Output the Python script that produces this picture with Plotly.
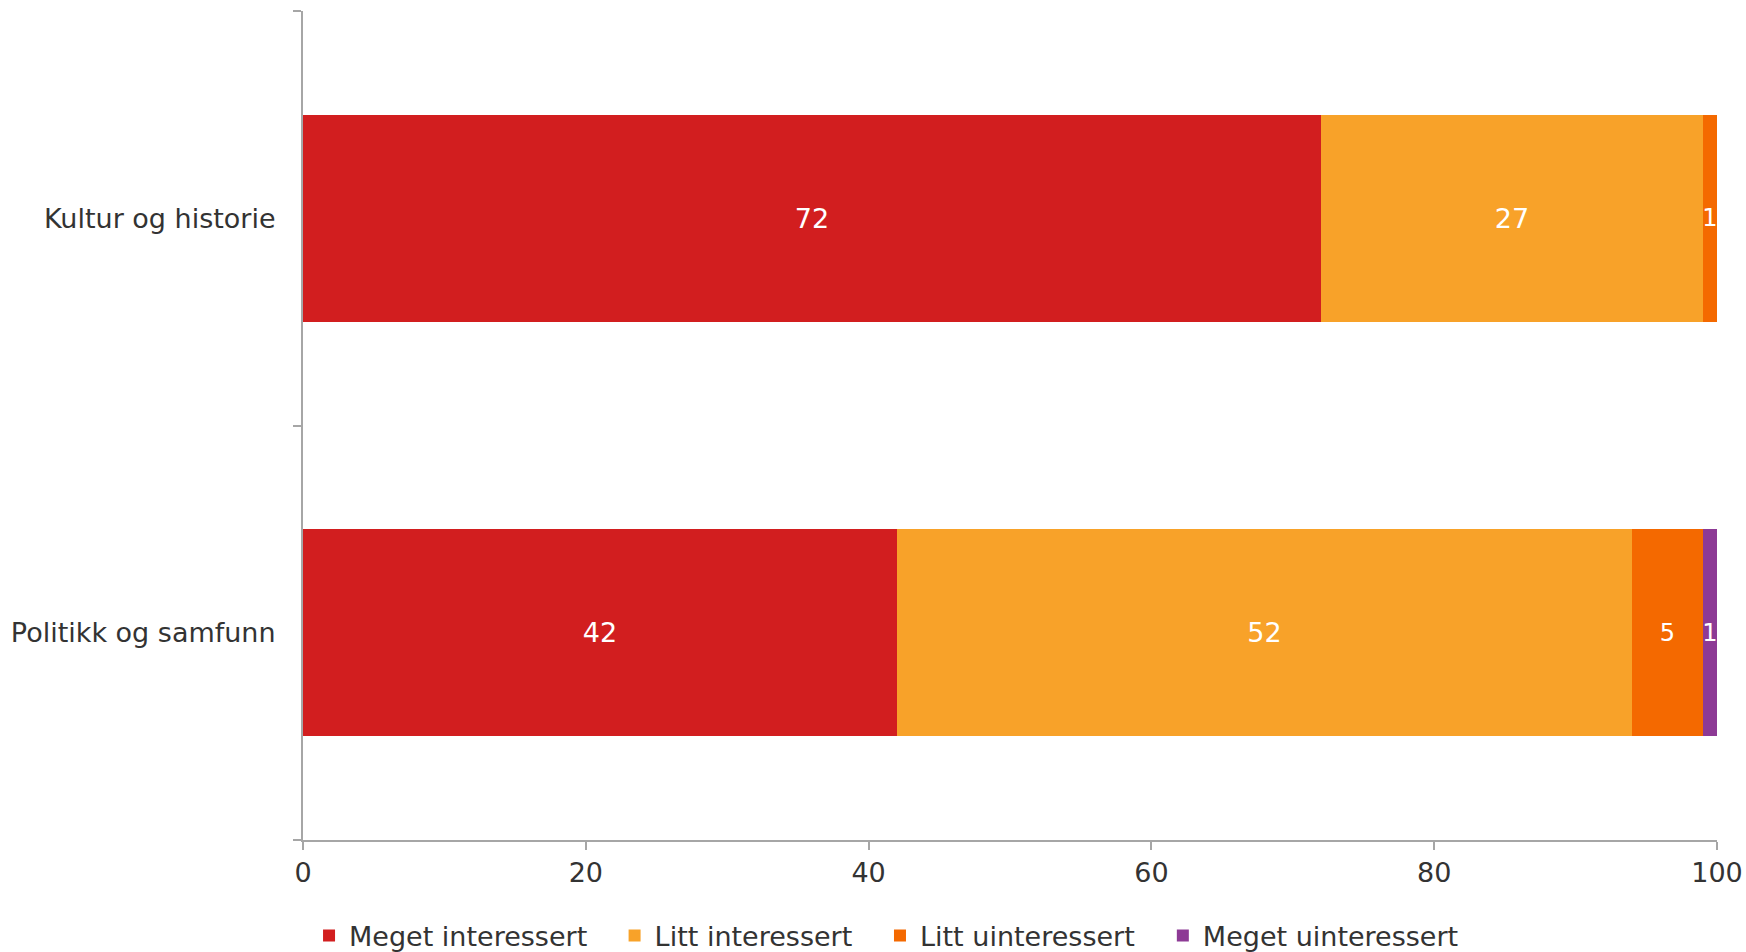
import plotly.graph_objects as go

# Interest in topics, share of respondents (%)
categories = ["Kultur og historie", "Politikk og samfunn"]
series_names = ["Meget interessert", "Litt interessert", "Litt uinteressert", "Meget uinteressert"]
meget_interessert = [72, 42]
litt_interessert = [27, 52]
litt_uinteressert = [1, 5]
meget_uinteressert = [0, 1]
x_ticks = [0, 20, 40, 60, 80, 100]

colors = ["#D21E1F", "#F8A229", "#F46900", "#8D3A95"]
values = [meget_interessert, litt_interessert, litt_uinteressert, meget_uinteressert]
label_sizes = [27, 27, 24, 24]
# one legend box per series so each entry sits at its own x (container fraction)
legend_ids = ["legend", "legend2", "legend3", "legend4"]
legend_x = [0.177, 0.352, 0.504, 0.666]

FONT = "DejaVu Sans"
TEXT = "#333333"
AXIS = "#A6A6A6"

fig = go.Figure()
for name, vals, col, fs, lg in zip(series_names, values, colors, label_sizes, legend_ids):
    fig.add_trace(go.Bar(
        name=name,
        y=categories,
        x=vals,
        orientation="h",
        marker=dict(color=col, line=dict(width=0)),
        text=[str(v) for v in vals],
        textposition="inside",
        insidetextanchor="middle",
        textangle=0,
        constraintext="none",
        cliponaxis=True,
        insidetextfont=dict(color="white", size=fs, family=FONT),
        hoverinfo="x+name",
        legend=lg,
        showlegend=True,
    ))

legend_style = dict(
    orientation="h",
    xref="container",
    yref="container",
    xanchor="left",
    y=0.0168,
    yanchor="middle",
    font=dict(size=27, color=TEXT, family=FONT),
    itemwidth=30,
    bgcolor="rgba(0,0,0,0)",
)

fig.update_layout(
    showlegend=True,
    barmode="stack",
    bargap=0.5,
    width=1746,
    height=952,
    margin=dict(l=303, r=29, t=11, b=112, autoexpand=False),
    paper_bgcolor="white",
    plot_bgcolor="white",
    font=dict(family=FONT, size=27, color=TEXT),
    legend=dict(x=legend_x[0], **legend_style),
    legend2=dict(x=legend_x[1], **legend_style),
    legend3=dict(x=legend_x[2], **legend_style),
    legend4=dict(x=legend_x[3], **legend_style),
    xaxis=dict(
        range=[0, 100],
        tickvals=x_ticks,
        ticktext=[str(t) for t in x_ticks],
        showgrid=False,
        zeroline=False,
        showline=True,
        linecolor=AXIS,
        linewidth=2,
        ticks="outside",
        ticklen=8,
        tickwidth=2,
        tickcolor=AXIS,
        tickfont=dict(size=27, color=TEXT),
        automargin=False,
    ),
    yaxis=dict(
        categoryorder="array",
        categoryarray=categories[::-1],
        showgrid=False,
        zeroline=False,
        showline=True,
        linecolor=AXIS,
        linewidth=2,
        ticks="outside",
        tickson="boundaries",
        ticklen=8,
        tickwidth=2,
        tickcolor=AXIS,
        ticklabelstandoff=20,
        tickfont=dict(size=27, color=TEXT),
        automargin=False,
    ),
)

fig.write_html("out.html")
